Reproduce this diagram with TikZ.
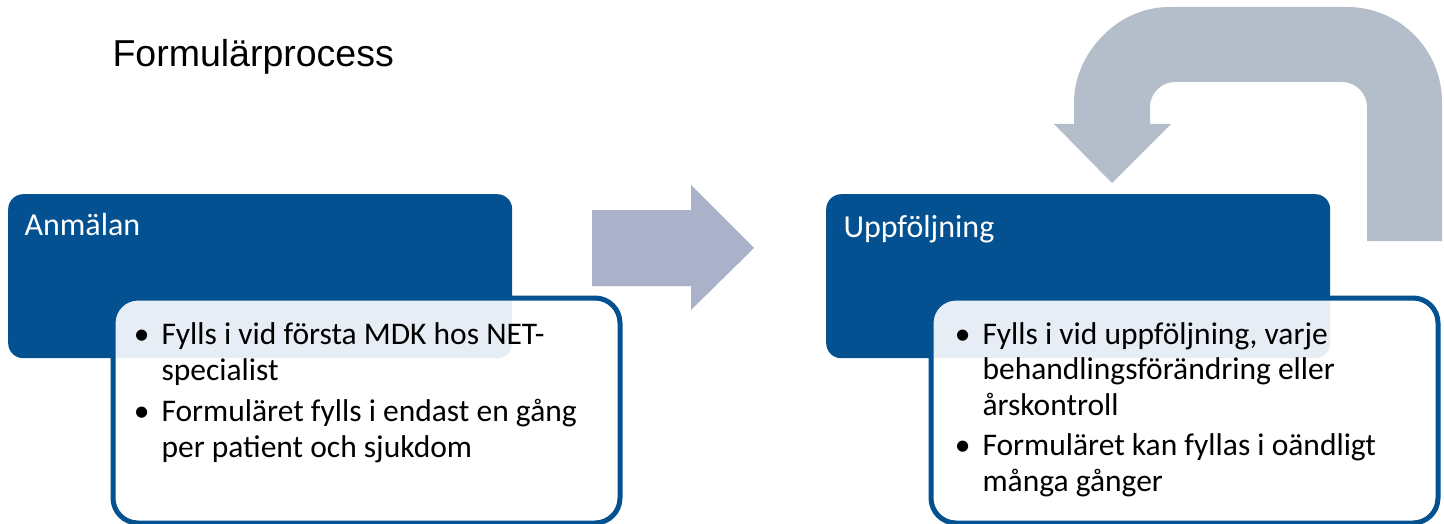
\documentclass[tikz,border=0pt]{standalone}
\usepackage{fontspec}
\setmainfont{Carlito}
\newfontfamily\titlefont{Liberation Sans}

\definecolor{boxblue}{RGB}{3,81,144}
\definecolor{arrowgray}{RGB}{169,178,200}
\definecolor{loopgray}{RGB}{180,189,202}

\tikzset{
  phase/.style={fill=boxblue, rounded corners=15pt, minimum width=504pt,
    minimum height=164pt, inner sep=0pt, anchor=north west},
  detail/.style={draw=boxblue, line width=5pt, fill=white, fill opacity=0.9,
    rounded corners=25pt, minimum width=507pt, minimum height=225pt,
    inner sep=0pt, anchor=north west},
  phasetext/.style={text=white, anchor=base west, font=\fontsize{32}{36}\selectfont},
  item/.style={anchor=base west, align=left, font=\fontsize{31.5}{35.5}\selectfont},
}
\newcommand{\bul}{\llap{\textbullet\hspace{12pt}}}

\begin{document}
\begin{tikzpicture}[x=1pt,y=-1pt]

  % Fixed frame of the slide
  \useasboundingbox (0,0) rectangle (1444,524);

  % Heading
  \node (title) [anchor=base west, font=\titlefont\fontsize{37.5}{40}\selectfont]
        at (109,67) {Formulärprocess};

  % Block arrow between the two phases
  \fill[arrowgray] (592,210) -- (691,210) -- (691,185) -- (754,248)
        -- (691,310) -- (691,286) -- (592,286) -- cycle;

  % Loop arrow back into the follow-up phase
  \fill[loopgray] (1442,241) -- (1442,102)
        .. controls (1442,49.5) and (1399.5,7) .. (1347,7) -- (1169,7)
        .. controls (1116.5,7) and (1074,54.5) .. (1074,102)
        -- (1074,124) -- (1054,124) -- (1112,183) -- (1171,124) -- (1150,124)
        -- (1150,107) .. controls (1150,93.2) and (1161.2,82) .. (1175,82)
        -- (1342,82) .. controls (1355.8,82) and (1367,93.2) .. (1367,107)
        -- (1367,241) -- cycle;

  % First phase (item nodes sit on the baseline of their last line)
  \node (anm) [phase] at (8,194) {};
  \node (anmhead) [phasetext] at (21,236) {Anmälan};
  \node (anmdetail) [detail] at (110.5,295.5) {};
  \node (anmfirst) [item] at (158,380) {\bul Fylls i vid första MDK hos NET-\\specialist};
  \node (anmonce) [item] at (158,457) {\bul Formuläret fylls i endast en gång\\per patient och sjukdom};

  % Second phase
  \node (upf) [phase] at (826,194) {};
  \node (upfhead) [phasetext] at (840,237) {Uppföljning};
  \node (upfdetail) [detail] at (928.5,295.5) {};
  \node (upfvisit) [item] at (979,415) {\bul Fylls i vid uppföljning, varje\\behandlingsförändring eller\\årskontroll};
  \node (upfmany) [item] at (979,491) {\bul Formuläret kan fyllas i oändligt\\många gånger};

\end{tikzpicture}
\end{document}
